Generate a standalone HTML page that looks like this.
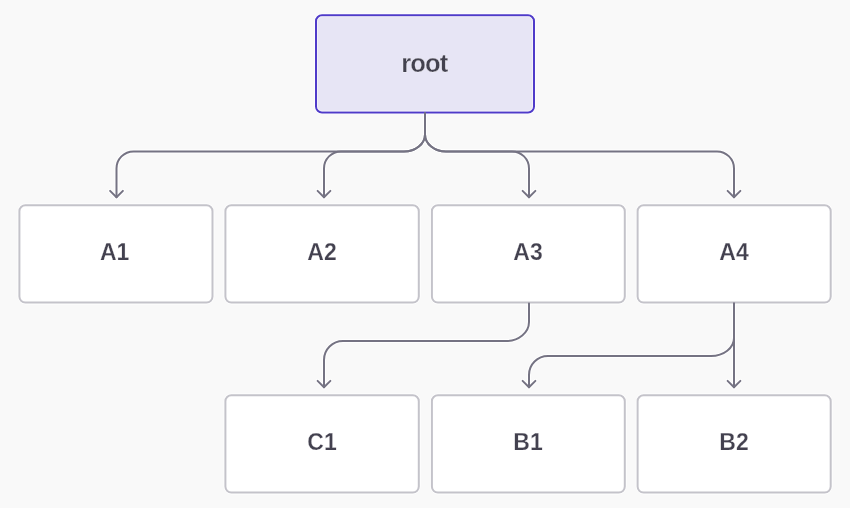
<!DOCTYPE html>
<html>
<head>
<meta charset="utf-8">
<style>
html,body{margin:0;padding:0;background:#f9f9f9;width:850px;height:508px;overflow:hidden;}
svg{display:block;will-change:transform;}
text{font-family:"Liberation Sans",sans-serif;font-weight:bold;fill:#43414f;text-anchor:middle;stroke:#ffffff;stroke-width:0.25px;}
</style>
</head>
<body>
<svg width="850" height="508" viewBox="0 0 850 508">
<rect x="0" y="0" width="850" height="508" fill="#f9f9f9"/>
<g fill="none" stroke="#ffffff" stroke-width="3.6">
    <rect x="316" y="15.2" width="218" height="97.3" rx="6"/>
  <rect x="19.4" y="205.3" width="193.1" height="97.3" rx="6"/>
  <rect x="225.4" y="205.3" width="193.4" height="97.3" rx="6"/>
  <rect x="431.9" y="205.3" width="192.9" height="97.3" rx="6"/>
  <rect x="637.6" y="205.3" width="193.1" height="97.3" rx="6"/>
  <rect x="225.4" y="395.3" width="193.4" height="97.3" rx="6"/>
  <rect x="431.9" y="395.3" width="192.9" height="97.3" rx="6"/>
  <rect x="637.6" y="395.3" width="193.1" height="97.3" rx="6"/>
</g>
<g fill="none" stroke="#ffffff" stroke-width="4" stroke-linecap="round" stroke-linejoin="round">
  <path d="M425 113.5 V134.4 A21 17 0 0 1 404 151.4 H133.5 A17 17 0 0 0 116.5 168.4 V197.3"/>
  <path d="M425 113.5 V134.4 A21 17 0 0 1 404 151.4 H341 A17 17 0 0 0 324 168.4 V197.3"/>
  <path d="M425 113.5 V134.4 A21 17 0 0 0 446 151.4 H512 A17 17 0 0 1 529 168.4 V197.3"/>
  <path d="M425 113.5 V134.4 A21 17 0 0 0 446 151.4 H717 A17 17 0 0 1 734 168.4 V197.3"/>
  <path d="M529 303.6 V322 A23 19 0 0 1 506 341 H343 A19 19 0 0 0 324 360 V387.3"/>
  <path d="M734 303.6 V338 A23 18 0 0 1 711 356 H548 A19 19 0 0 0 529 375 V387.3"/>
  <path d="M734 303.6 V387.3"/>
  <path d="M110.1 190.9 L116.5 197.3 L122.9 190.9"/>
  <path d="M317.6 190.9 L324 197.3 L330.4 190.9"/>
  <path d="M522.6 190.9 L529 197.3 L535.4 190.9"/>
  <path d="M727.6 190.9 L734 197.3 L740.4 190.9"/>
  <path d="M317.6 380.9 L324 387.3 L330.4 380.9"/>
  <path d="M522.6 380.9 L529 387.3 L535.4 380.9"/>
  <path d="M727.6 380.9 L734 387.3 L740.4 380.9"/>
</g>
<g fill="#e7e5f5" stroke="#4f3bc9" stroke-width="2">
  <rect x="316" y="15.2" width="218" height="97.3" rx="6"/>
</g>
<rect x="317.5" y="16.7" width="215" height="94.3" rx="4.5" fill="none" stroke="#ffffff" stroke-opacity="0.45" stroke-width="1"/>
<g fill="#ffffff" stroke="#c4c3ca" stroke-width="2">
  <rect x="19.4" y="205.3" width="193.1" height="97.3" rx="6"/>
  <rect x="225.4" y="205.3" width="193.4" height="97.3" rx="6"/>
  <rect x="431.9" y="205.3" width="192.9" height="97.3" rx="6"/>
  <rect x="637.6" y="205.3" width="193.1" height="97.3" rx="6"/>
  <rect x="225.4" y="395.3" width="193.4" height="97.3" rx="6"/>
  <rect x="431.9" y="395.3" width="192.9" height="97.3" rx="6"/>
  <rect x="637.6" y="395.3" width="193.1" height="97.3" rx="6"/>
</g>
<g fill="none" stroke="#757383" stroke-width="2" stroke-linecap="round" stroke-linejoin="round">
  <path d="M425 113.5 V134.4 A21 17 0 0 1 404 151.4 H133.5 A17 17 0 0 0 116.5 168.4 V197.3"/>
  <path d="M425 113.5 V134.4 A21 17 0 0 1 404 151.4 H341 A17 17 0 0 0 324 168.4 V197.3"/>
  <path d="M425 113.5 V134.4 A21 17 0 0 0 446 151.4 H512 A17 17 0 0 1 529 168.4 V197.3"/>
  <path d="M425 113.5 V134.4 A21 17 0 0 0 446 151.4 H717 A17 17 0 0 1 734 168.4 V197.3"/>
  <path d="M529 303.6 V322 A23 19 0 0 1 506 341 H343 A19 19 0 0 0 324 360 V387.3"/>
  <path d="M734 303.6 V338 A23 18 0 0 1 711 356 H548 A19 19 0 0 0 529 375 V387.3"/>
  <path d="M734 303.6 V387.3"/>
  <path d="M110.1 190.9 L116.5 197.3 L122.9 190.9"/>
  <path d="M317.6 190.9 L324 197.3 L330.4 190.9"/>
  <path d="M522.6 190.9 L529 197.3 L535.4 190.9"/>
  <path d="M727.6 190.9 L734 197.3 L740.4 190.9"/>
  <path d="M317.6 380.9 L324 387.3 L330.4 380.9"/>
  <path d="M522.6 380.9 L529 387.3 L535.4 380.9"/>
  <path d="M727.6 380.9 L734 387.3 L740.4 380.9"/>
</g>
<text x="424.4" y="71.6" font-size="25.6" letter-spacing="-0.9">root</text>
<text x="114.6" y="259.5" font-size="23">A1</text>
<text x="322" y="259.5" font-size="23">A2</text>
<text x="528" y="259.5" font-size="23">A3</text>
<text x="734" y="259.5" font-size="23">A4</text>
<text x="322" y="449.5" font-size="23">C1</text>
<text x="528" y="449.5" font-size="23">B1</text>
<text x="734" y="449.5" font-size="23">B2</text>
</svg>
</body>
</html>
